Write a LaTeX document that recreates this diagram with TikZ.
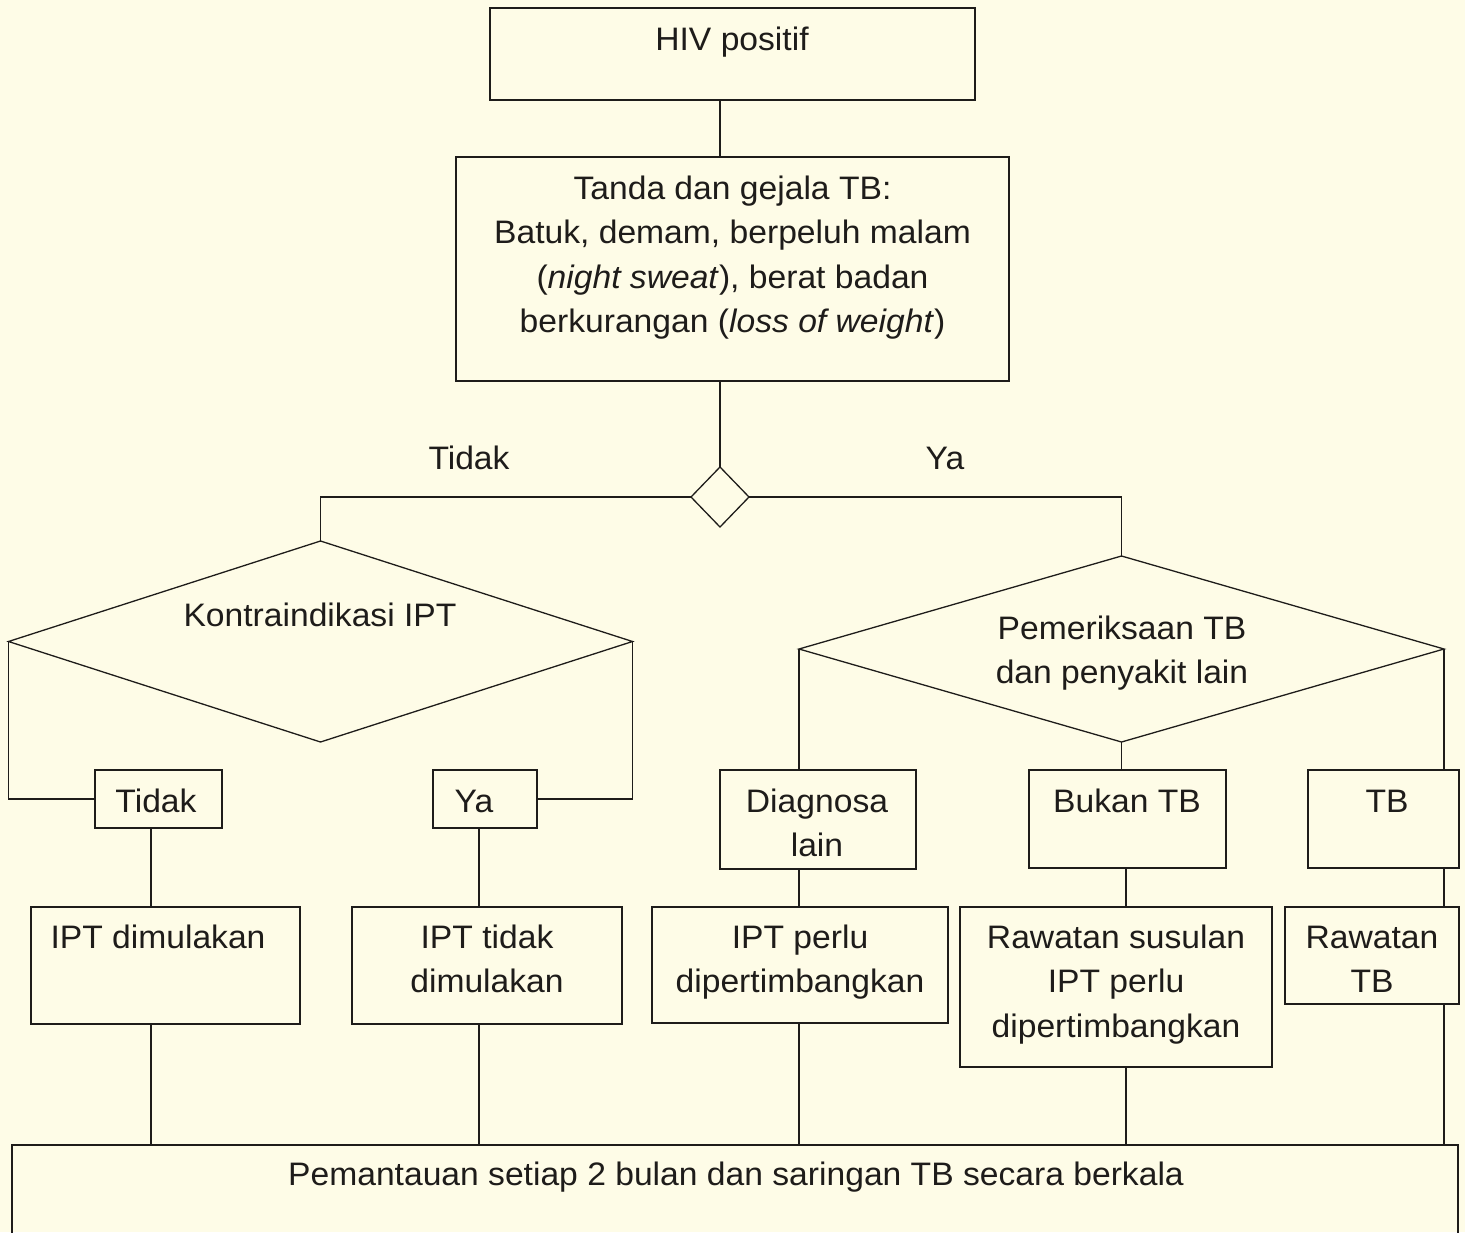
\documentclass[tikz,border=0pt]{standalone}
\usepackage{fontspec}
\setmainfont{Liberation Sans}[FakeStretch=1.035]
\usetikzlibrary{shapes.geometric}
\definecolor{bgcol}{RGB}{254,252,231}
\definecolor{ink}{RGB}{30,28,26}
\begin{document}
\begin{tikzpicture}[x=1pt,y=-1pt,
  box/.style={draw=ink, line width=1.3pt, rectangle, inner sep=0pt, outer sep=0pt, anchor=north west},
  dia/.style={draw=ink, line width=1.3pt, diamond, inner sep=0pt, outer sep=0pt},
  txt/.style={text=ink, font=\fontsize{32.5}{44.5}\selectfont, align=center, inner sep=0pt, anchor=north},
  link/.style={draw=ink, line width=1.3pt}]
\useasboundingbox (0,0) rectangle (1465,1232);
\fill[bgcol] (0,0) rectangle (1465,1232);
\clip (0,0) rectangle (1465,1232);

% boxes
\node[box, minimum width=485, minimum height=92]  (hiv)      at (490,8) {};
\node[box, minimum width=553, minimum height=224] (tanda)    at (456,157) {};
\node[box, minimum width=127, minimum height=58]  (tidakb)   at (95,770) {};
\node[box, minimum width=104, minimum height=58]  (yab)      at (433,770) {};
\node[box, minimum width=269, minimum height=117] (iptdim)   at (31,907) {};
\node[box, minimum width=270, minimum height=117] (ipttidak) at (352,907) {};
\node[box, minimum width=196, minimum height=99]  (diag)     at (720,770) {};
\node[box, minimum width=197, minimum height=98]  (bukan)    at (1029,770) {};
\node[box, minimum width=151, minimum height=98]  (tbb)      at (1308,770) {};
\node[box, minimum width=296, minimum height=116] (iptperlu) at (652,907) {};
\node[box, minimum width=312, minimum height=160] (rsus)     at (960,907) {};
\node[box, minimum width=174, minimum height=97]  (rtb)      at (1285,907) {};
\node[box, minimum width=1446, minimum height=130] (bottom)  at (12,1145) {};

% diamonds
\node[dia, minimum width=58, minimum height=60]   (sd) at (720,497) {};
\node[dia, minimum width=624, minimum height=201] (ld) at (320.5,641.5) {};
\node[dia, minimum width=645, minimum height=186] (rd) at (1121.5,649) {};

% column coordinates
\coordinate (c1) at (151,0);
\coordinate (c2) at (479,0);
\coordinate (c4) at (1126,0);

% connectors
\draw[link] (sd.north |- hiv.south) -- (sd.north |- tanda.north);
\draw[link] (sd.north |- tanda.south) -- (sd.north);
\draw[link] (sd.west) -| (ld.north);
\draw[link] (sd.east) -| (rd.north);
\draw[link] (ld.west) |- (tidakb.west);
\draw[link] (ld.east) |- (yab.east);
\draw[link] (tidakb.south -| c1) -- (iptdim.north -| c1);
\draw[link] (iptdim.south -| c1) -- (bottom.north -| c1);
\draw[link] (yab.south -| c2) -- (ipttidak.north -| c2);
\draw[link] (ipttidak.south -| c2) -- (bottom.north -| c2);
\draw[link] (rd.west) -- (rd.west |- diag.north);
\draw[link] (diag.south -| rd.west) -- (iptperlu.north -| rd.west);
\draw[link] (iptperlu.south -| rd.west) -- (bottom.north -| rd.west);
\draw[link] (rd.south) -- (rd.south |- bukan.north);
\draw[link] (bukan.south -| c4) -- (rsus.north -| c4);
\draw[link] (rsus.south -| c4) -- (bottom.north -| c4);
\draw[link] (rd.east) -- (rd.east |- tbb.north);
\draw[link] (tbb.south -| rd.east) -- (rtb.north -| rd.east);
\draw[link] (rtb.south -| rd.east) -- (bottom.north -| rd.east);

% texts
\node[txt] (t-hiv) at (732,18.85) {\strut HIV positif};
\node[txt] (t-tanda) at (732.5,167.85) {\strut Tanda dan gejala TB:\\Batuk, demam, berpeluh malam\\(\textit{night sweat}), berat badan\\berkurangan (\textit{loss of weight})};
\node[txt] (l-tidak) at (469,437.85) {\strut Tidak};
\node[txt] (l-ya) at (945,437.85) {\strut Ya};
\node[txt] (t-kontra) at (320,594.85) {\strut Kontraindikasi IPT};
\node[txt] (t-periksa) at (1122,607.85) {\strut Pemeriksaan TB\\dan penyakit lain};
\node[txt] (t-tidak) at (156,780.85) {\strut Tidak};
\node[txt] (t-ya) at (474,780.85) {\strut Ya};
\node[txt] (t-diag) at (817,780.85) {\strut Diagnosa\\lain};
\node[txt] (t-bukan) at (1127,780.85) {\strut Bukan TB};
\node[txt] (t-tb) at (1387,780.85) {\strut TB};
\node[txt] (t-iptdim) at (158,916.85) {\strut IPT dimulakan};
\node[txt] (t-ipttidak) at (487,916.85) {\strut IPT tidak\\dimulakan};
\node[txt] (t-iptperlu) at (800,916.85) {\strut IPT perlu\\dipertimbangkan};
\node[txt] (t-rsus) at (1116,916.85) {\strut Rawatan susulan\\IPT perlu\\dipertimbangkan};
\node[txt] (t-rtb) at (1372,916.85) {\strut Rawatan\\TB};
\node[txt] (t-pem) at (736,1153.85) {\strut Pemantauan setiap 2 bulan dan saringan TB secara berkala};
\end{tikzpicture}
\end{document}
